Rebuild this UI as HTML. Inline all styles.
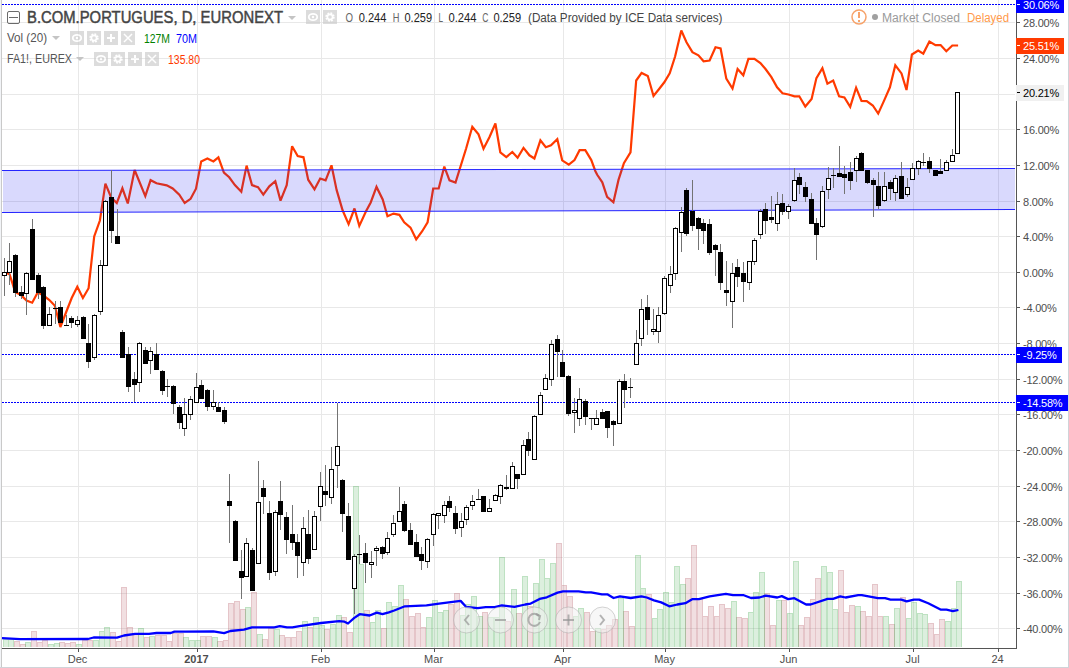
<!DOCTYPE html><html><head><meta charset="utf-8"><style>
html,body{margin:0;padding:0;background:#fff;width:1069px;height:668px;overflow:hidden}
svg{display:block;font-family:"Liberation Sans",sans-serif}
</style></head><body>
<svg width="1069" height="668" viewBox="0 0 1069 668">
<rect x="0" y="0" width="1069" height="668" fill="#fff"/>
<rect x="0" y="0" width="1" height="668" fill="#f2f4f7"/>
<rect x="1" y="0" width="1" height="668" fill="#c9c9c9"/>
<rect x="1068" y="0" width="1" height="668" fill="#d0d3d8"/>
<rect x="0" y="667" width="1069" height="1" fill="#d0d3d8"/>
<g shape-rendering="crispEdges"><rect x="2" y="22" width="1013" height="1" fill="#e8e8e8"/><rect x="2" y="58" width="1013" height="1" fill="#e8e8e8"/><rect x="2" y="94" width="1013" height="1" fill="#e8e8e8"/><rect x="2" y="129" width="1013" height="1" fill="#e8e8e8"/><rect x="2" y="165" width="1013" height="1" fill="#e8e8e8"/><rect x="2" y="201" width="1013" height="1" fill="#e8e8e8"/><rect x="2" y="236" width="1013" height="1" fill="#e8e8e8"/><rect x="2" y="272" width="1013" height="1" fill="#e8e8e8"/><rect x="2" y="307" width="1013" height="1" fill="#e8e8e8"/><rect x="2" y="343" width="1013" height="1" fill="#e8e8e8"/><rect x="2" y="379" width="1013" height="1" fill="#e8e8e8"/><rect x="2" y="414" width="1013" height="1" fill="#e8e8e8"/><rect x="2" y="450" width="1013" height="1" fill="#e8e8e8"/><rect x="2" y="486" width="1013" height="1" fill="#e8e8e8"/><rect x="2" y="521" width="1013" height="1" fill="#e8e8e8"/><rect x="2" y="557" width="1013" height="1" fill="#e8e8e8"/><rect x="2" y="593" width="1013" height="1" fill="#e8e8e8"/><rect x="2" y="628" width="1013" height="1" fill="#e8e8e8"/><rect x="78" y="0" width="1" height="648" fill="#e8e8e8"/><rect x="197" y="0" width="1" height="648" fill="#e8e8e8"/><rect x="321" y="0" width="1" height="648" fill="#e8e8e8"/><rect x="434" y="0" width="1" height="648" fill="#e8e8e8"/><rect x="563" y="0" width="1" height="648" fill="#e8e8e8"/><rect x="665" y="0" width="1" height="648" fill="#e8e8e8"/><rect x="789" y="0" width="1" height="648" fill="#e8e8e8"/><rect x="913" y="0" width="1" height="648" fill="#e8e8e8"/><rect x="998" y="0" width="1" height="648" fill="#e8e8e8"/></g>
<line x1="2" y1="4.5" x2="1016" y2="4.5" stroke="#0000ff" stroke-width="1" stroke-dasharray="2,1" shape-rendering="crispEdges"/>
<line x1="2" y1="354.5" x2="1016" y2="354.5" stroke="#0000ff" stroke-width="1" stroke-dasharray="2,1" shape-rendering="crispEdges"/>
<line x1="2" y1="402.5" x2="1016" y2="402.5" stroke="#0000ff" stroke-width="1" stroke-dasharray="2,1" shape-rendering="crispEdges"/>
<g shape-rendering="crispEdges"><path d="M15,642h4v5h-4zM21,645h4v2h-4zM32,632h4v15h-4zM38,643h4v4h-4zM43,641h4v6h-4zM60,643h4v4h-4zM66,644h4v3h-4zM71,643h4v4h-4zM83,641h4v6h-4zM88,641h4v6h-4zM111,633h4v14h-4zM117,642h4v5h-4zM122,588h4v59h-4zM128,628h4v19h-4zM134,634h4v13h-4zM145,638h4v9h-4zM156,636h4v11h-4zM162,636h4v11h-4zM167,642h4v5h-4zM173,634h4v13h-4zM179,634h4v13h-4zM201,637h4v10h-4zM207,637h4v10h-4zM218,642h4v5h-4zM224,641h4v6h-4zM229,604h4v43h-4zM235,602h4v45h-4zM241,610h4v37h-4zM252,593h4v54h-4zM263,640h4v7h-4zM269,629h4v18h-4zM280,636h4v11h-4zM286,638h4v9h-4zM292,638h4v9h-4zM297,632h4v15h-4zM308,628h4v19h-4zM325,630h4v17h-4zM342,618h4v29h-4zM348,633h4v14h-4zM365,611h4v36h-4zM382,629h4v18h-4zM404,600h4v47h-4zM410,617h4v30h-4zM416,614h4v33h-4zM421,628h4v19h-4zM449,605h4v42h-4zM455,594h4v53h-4zM483,613h4v34h-4zM506,622h4v25h-4zM517,614h4v33h-4zM528,607h4v40h-4zM557,544h4v103h-4zM562,586h4v61h-4zM568,597h4v50h-4zM585,613h4v34h-4zM591,632h4v15h-4zM602,630h4v17h-4zM607,626h4v21h-4zM613,620h4v27h-4zM624,612h4v35h-4zM630,627h4v20h-4zM647,595h4v52h-4zM686,579h4v68h-4zM692,546h4v101h-4zM698,600h4v47h-4zM703,617h4v30h-4zM709,607h4v40h-4zM715,617h4v30h-4zM720,605h4v42h-4zM726,609h4v38h-4zM737,618h4v29h-4zM743,619h4v28h-4zM765,594h4v53h-4zM771,626h4v21h-4zM782,601h4v46h-4zM799,626h4v21h-4zM805,618h4v29h-4zM811,600h4v47h-4zM816,579h4v68h-4zM839,571h4v76h-4zM844,613h4v34h-4zM850,606h4v41h-4zM861,612h4v35h-4zM867,617h4v30h-4zM873,585h4v62h-4zM878,617h4v30h-4zM890,625h4v22h-4zM901,598h4v49h-4zM929,624h4v23h-4zM935,635h4v12h-4zM940,620h4v27h-4z" fill="rgba(190,110,120,0.22)"/><path d="M14.5,647V641.5H19.5V647M20.5,647V644.5H25.5V647M31.5,647V631.5H36.5V647M37.5,647V642.5H42.5V647M42.5,647V640.5H47.5V647M59.5,647V642.5H64.5V647M65.5,647V643.5H70.5V647M70.5,647V642.5H75.5V647M82.5,647V640.5H87.5V647M87.5,647V640.5H92.5V647M110.5,647V632.5H115.5V647M116.5,647V641.5H121.5V647M121.5,647V587.5H126.5V647M127.5,647V627.5H132.5V647M133.5,647V633.5H138.5V647M144.5,647V637.5H149.5V647M155.5,647V635.5H160.5V647M161.5,647V635.5H166.5V647M166.5,647V641.5H171.5V647M172.5,647V633.5H177.5V647M178.5,647V633.5H183.5V647M200.5,647V636.5H205.5V647M206.5,647V636.5H211.5V647M217.5,647V641.5H222.5V647M223.5,647V640.5H228.5V647M228.5,647V603.5H233.5V647M234.5,647V601.5H239.5V647M240.5,647V609.5H245.5V647M251.5,647V592.5H256.5V647M262.5,647V639.5H267.5V647M268.5,647V628.5H273.5V647M279.5,647V635.5H284.5V647M285.5,647V637.5H290.5V647M291.5,647V637.5H296.5V647M296.5,647V631.5H301.5V647M307.5,647V627.5H312.5V647M324.5,647V629.5H329.5V647M341.5,647V617.5H346.5V647M347.5,647V632.5H352.5V647M364.5,647V610.5H369.5V647M381.5,647V628.5H386.5V647M403.5,647V599.5H408.5V647M409.5,647V616.5H414.5V647M415.5,647V613.5H420.5V647M420.5,647V627.5H425.5V647M448.5,647V604.5H453.5V647M454.5,647V593.5H459.5V647M482.5,647V612.5H487.5V647M505.5,647V621.5H510.5V647M516.5,647V613.5H521.5V647M527.5,647V606.5H532.5V647M556.5,647V543.5H561.5V647M561.5,647V585.5H566.5V647M567.5,647V596.5H572.5V647M584.5,647V612.5H589.5V647M590.5,647V631.5H595.5V647M601.5,647V629.5H606.5V647M606.5,647V625.5H611.5V647M612.5,647V619.5H617.5V647M623.5,647V611.5H628.5V647M629.5,647V626.5H634.5V647M646.5,647V594.5H651.5V647M685.5,647V578.5H690.5V647M691.5,647V545.5H696.5V647M697.5,647V599.5H702.5V647M702.5,647V616.5H707.5V647M708.5,647V606.5H713.5V647M714.5,647V616.5H719.5V647M719.5,647V604.5H724.5V647M725.5,647V608.5H730.5V647M736.5,647V617.5H741.5V647M742.5,647V618.5H747.5V647M764.5,647V593.5H769.5V647M770.5,647V625.5H775.5V647M781.5,647V600.5H786.5V647M798.5,647V625.5H803.5V647M804.5,647V617.5H809.5V647M810.5,647V599.5H815.5V647M815.5,647V578.5H820.5V647M838.5,647V570.5H843.5V647M843.5,647V612.5H848.5V647M849.5,647V605.5H854.5V647M860.5,647V611.5H865.5V647M866.5,647V616.5H871.5V647M872.5,647V584.5H877.5V647M877.5,647V616.5H882.5V647M889.5,647V624.5H894.5V647M900.5,647V597.5H905.5V647M928.5,647V623.5H933.5V647M934.5,647V634.5H939.5V647M939.5,647V619.5H944.5V647" fill="none" stroke="rgba(190,110,120,0.4)" stroke-width="1"/><path d="M4,640h4v7h-4zM9,640h4v7h-4zM26,643h4v4h-4zM49,645h4v2h-4zM55,644h4v3h-4zM77,645h4v2h-4zM94,641h4v6h-4zM100,632h4v15h-4zM105,628h4v19h-4zM139,629h4v18h-4zM150,637h4v10h-4zM184,638h4v9h-4zM190,641h4v6h-4zM196,641h4v6h-4zM213,638h4v9h-4zM246,608h4v39h-4zM258,635h4v12h-4zM275,630h4v17h-4zM303,622h4v25h-4zM314,618h4v29h-4zM320,626h4v21h-4zM331,625h4v22h-4zM337,616h4v31h-4zM354,487h4v160h-4zM359,565h4v82h-4zM371,623h4v24h-4zM376,611h4v36h-4zM387,603h4v44h-4zM393,607h4v40h-4zM399,586h4v61h-4zM427,618h4v29h-4zM433,601h4v46h-4zM438,613h4v34h-4zM444,611h4v36h-4zM461,616h4v31h-4zM466,605h4v42h-4zM472,597h4v50h-4zM478,617h4v30h-4zM489,618h4v29h-4zM495,618h4v29h-4zM500,558h4v89h-4zM512,590h4v57h-4zM523,577h4v70h-4zM534,584h4v63h-4zM540,560h4v87h-4zM545,579h4v68h-4zM551,564h4v83h-4zM574,617h4v30h-4zM579,609h4v38h-4zM596,629h4v18h-4zM619,599h4v48h-4zM636,556h4v91h-4zM641,589h4v58h-4zM653,619h4v28h-4zM658,610h4v37h-4zM664,593h4v54h-4zM670,603h4v44h-4zM675,567h4v80h-4zM681,585h4v62h-4zM732,602h4v45h-4zM749,613h4v34h-4zM754,593h4v54h-4zM760,573h4v74h-4zM777,601h4v46h-4zM788,614h4v33h-4zM794,562h4v85h-4zM822,567h4v80h-4zM828,573h4v74h-4zM833,610h4v37h-4zM856,607h4v40h-4zM884,617h4v30h-4zM895,609h4v38h-4zM907,619h4v28h-4zM912,603h4v44h-4zM918,614h4v33h-4zM923,615h4v32h-4zM946,622h4v25h-4zM952,609h4v38h-4zM957,582h4v65h-4z" fill="rgba(80,175,90,0.2)"/><path d="M3.5,647V639.5H8.5V647M8.5,647V639.5H13.5V647M25.5,647V642.5H30.5V647M48.5,647V644.5H53.5V647M54.5,647V643.5H59.5V647M76.5,647V644.5H81.5V647M93.5,647V640.5H98.5V647M99.5,647V631.5H104.5V647M104.5,647V627.5H109.5V647M138.5,647V628.5H143.5V647M149.5,647V636.5H154.5V647M183.5,647V637.5H188.5V647M189.5,647V640.5H194.5V647M195.5,647V640.5H200.5V647M212.5,647V637.5H217.5V647M245.5,647V607.5H250.5V647M257.5,647V634.5H262.5V647M274.5,647V629.5H279.5V647M302.5,647V621.5H307.5V647M313.5,647V617.5H318.5V647M319.5,647V625.5H324.5V647M330.5,647V624.5H335.5V647M336.5,647V615.5H341.5V647M353.5,647V486.5H358.5V647M358.5,647V564.5H363.5V647M370.5,647V622.5H375.5V647M375.5,647V610.5H380.5V647M386.5,647V602.5H391.5V647M392.5,647V606.5H397.5V647M398.5,647V585.5H403.5V647M426.5,647V617.5H431.5V647M432.5,647V600.5H437.5V647M437.5,647V612.5H442.5V647M443.5,647V610.5H448.5V647M460.5,647V615.5H465.5V647M465.5,647V604.5H470.5V647M471.5,647V596.5H476.5V647M477.5,647V616.5H482.5V647M488.5,647V617.5H493.5V647M494.5,647V617.5H499.5V647M499.5,647V557.5H504.5V647M511.5,647V589.5H516.5V647M522.5,647V576.5H527.5V647M533.5,647V583.5H538.5V647M539.5,647V559.5H544.5V647M544.5,647V578.5H549.5V647M550.5,647V563.5H555.5V647M573.5,647V616.5H578.5V647M578.5,647V608.5H583.5V647M595.5,647V628.5H600.5V647M618.5,647V598.5H623.5V647M635.5,647V555.5H640.5V647M640.5,647V588.5H645.5V647M652.5,647V618.5H657.5V647M657.5,647V609.5H662.5V647M663.5,647V592.5H668.5V647M669.5,647V602.5H674.5V647M674.5,647V566.5H679.5V647M680.5,647V584.5H685.5V647M731.5,647V601.5H736.5V647M748.5,647V612.5H753.5V647M753.5,647V592.5H758.5V647M759.5,647V572.5H764.5V647M776.5,647V600.5H781.5V647M787.5,647V613.5H792.5V647M793.5,647V561.5H798.5V647M821.5,647V566.5H826.5V647M827.5,647V572.5H832.5V647M832.5,647V609.5H837.5V647M855.5,647V606.5H860.5V647M883.5,647V616.5H888.5V647M894.5,647V608.5H899.5V647M906.5,647V618.5H911.5V647M911.5,647V602.5H916.5V647M917.5,647V613.5H922.5V647M922.5,647V614.5H927.5V647M945.5,647V621.5H950.5V647M951.5,647V608.5H956.5V647M956.5,647V581.5H961.5V647" fill="none" stroke="rgba(80,175,90,0.37)" stroke-width="1"/></g>
<polyline points="2.0,638.2 20.0,639.1 88.0,639.0 93.6,637.5 117.0,637.7 124.0,635.5 135.0,633.9 149.0,633.9 156.5,633.0 170.8,633.0 174.4,631.6 185.2,631.6 213.3,631.4 224.1,633.2 230.4,631.0 243.9,629.6 252.0,627.4 274.4,627.4 279.8,626.1 287.0,627.4 292.4,627.4 299.6,626.1 321.1,623.0 339.1,621.2 344.5,621.7 348.0,623.5 354.3,617.9 359.7,614.2 369.6,615.5 376.8,612.6 382.5,614.2 388.8,612.3 394.2,610.5 404.9,606.3 426.5,605.4 439.1,603.6 460.6,600.9 466.0,606.8 477.7,608.2 485.8,607.2 494.7,607.2 501.9,605.4 514.5,606.8 525.3,604.5 530.7,603.6 539.6,598.9 546.8,597.3 557.6,592.6 563.0,591.3 578.6,591.4 585.8,592.4 591.1,592.4 601.9,594.3 607.3,594.3 613.6,598.0 619.9,596.3 630.7,598.0 641.4,596.3 646.8,597.5 654.0,600.4 661.2,602.4 669.3,606.3 677.4,604.5 685.4,603.2 692.6,599.1 698.9,599.1 709.7,596.3 725.8,593.8 733.0,595.2 743.8,595.2 751.0,598.0 759.4,597.5 765.7,595.6 777.3,597.5 781.8,596.1 788.1,599.1 794.4,598.2 806.1,604.5 810.6,604.5 827.6,598.9 833.0,598.9 840.2,596.3 845.6,597.5 858.2,595.2 861.8,595.2 877.9,598.2 885.1,598.2 890.5,599.6 901.3,599.6 906.7,601.4 913.8,599.6 919.2,599.6 928.2,603.2 940.5,609.6 946.5,609.7 952.8,611.2 958.4,610.0" fill="none" stroke="#0000ff" stroke-width="2.3" stroke-linejoin="round"/>
<polyline points="6.0,272.7 9.6,274.3 15.2,292.0 20.9,295.0 26.5,300.5 32.2,302.7 37.8,292.2 43.4,295.5 49.1,299.8 54.7,305.5 60.4,327.0 66.0,312.5 71.7,298.0 77.3,286.8 82.9,298.0 88.6,288.2 94.2,236.5 99.9,220.5 105.4,183.6 111.2,197.5 116.8,203.0 122.4,188.3 127.8,203.5 134.6,170.0 145.3,196.2 150.6,180.2 156.5,183.3 166.7,185.3 172.7,188.4 179.3,194.7 184.7,203.0 190.6,198.8 196.0,188.7 201.2,161.4 207.4,158.5 213.4,161.4 218.4,157.3 223.9,172.5 229.2,177.3 234.9,185.1 241.3,191.7 246.6,165.6 252.0,185.1 258.0,187.2 263.3,194.7 269.3,186.3 275.3,181.2 280.5,200.6 286.7,185.1 292.1,146.2 297.7,156.1 303.5,157.3 308.2,179.7 314.5,189.3 320.2,178.5 325.6,180.3 331.5,165.3 336.6,189.9 342.6,210.3 348.6,224.1 354.5,208.5 359.3,225.9 365.9,211.5 370.7,202.5 376.5,186.9 382.7,199.5 387.5,216.3 393.5,213.6 399.4,214.8 404.2,222.3 410.5,227.6 416.2,239.3 422.2,231.2 427.6,222.3 433.2,188.5 438.7,188.5 444.3,166.6 449.5,180.4 455.5,182.5 466.2,148.3 472.3,126.8 478.5,134.4 483.5,148.7 489.4,137.2 495.4,123.5 500.3,152.3 506.3,157.1 512.3,152.0 517.6,157.7 523.5,147.9 529.4,155.3 534.4,158.5 540.4,140.3 545.8,147.2 551.0,145.4 557.3,139.2 562.2,160.3 568.8,164.6 574.5,160.1 579.6,150.2 585.3,150.2 591.3,160.1 595.4,171.2 597.2,174.8 602.3,182.3 607.1,196.9 613.4,202.3 618.5,179.9 623.9,163.1 630.5,152.3 636.2,80.5 641.6,72.9 647.8,76.0 653.5,96.0 658.9,89.2 664.3,82.3 669.7,73.3 675.1,56.5 681.3,30.5 686.5,42.2 692.4,52.1 698.4,55.3 703.6,61.3 709.6,60.5 715.5,47.3 720.6,48.5 726.3,78.7 732.5,88.5 737.6,68.9 743.3,75.3 748.4,58.9 754.4,58.9 760.4,63.0 765.7,69.3 771.4,77.1 777.1,87.3 782.5,93.3 788.5,94.5 794.5,96.3 799.3,96.3 805.3,106.5 811.6,98.9 816.4,78.1 822.4,68.1 827.4,83.7 833.2,80.5 839.1,96.3 844.4,97.5 850.2,106.8 856.1,87.7 861.5,101.0 866.7,101.2 872.8,105.5 878.2,113.6 884.3,100.1 889.9,87.3 895.3,65.3 901.5,73.4 906.5,90.0 911.9,54.5 918.2,50.5 923.3,53.6 929.4,41.5 935.5,45.1 940.6,45.1 946.3,51.3 952.3,45.5 958.1,45.5" fill="none" stroke="#ff3a00" stroke-width="2.2" stroke-linejoin="miter" stroke-miterlimit="3"/>
<polygon points="3,170.5 1015,168.5 1015,209.5 3,212.5" fill="rgba(0,0,240,0.15)"/>
<line x1="2" y1="170.5" x2="1015" y2="168.5" stroke="#2424ff" stroke-width="1.2"/>
<line x1="2" y1="212.5" x2="1015" y2="209.5" stroke="#2424ff" stroke-width="1.2"/>
<g shape-rendering="crispEdges"><rect x="4" y="258" width="1" height="38" fill="#737373"/><rect x="2" y="272" width="5" height="4" fill="#000"/><rect x="3" y="273" width="3" height="2" fill="#fff"/><rect x="9" y="243" width="1" height="42" fill="#737373"/><rect x="7" y="261" width="5" height="12" fill="#000"/><rect x="8" y="262" width="3" height="10" fill="#fff"/><rect x="15" y="254" width="1" height="43" fill="#737373"/><rect x="13" y="255" width="5" height="38" fill="#000"/><rect x="21" y="286" width="1" height="13" fill="#737373"/><rect x="19" y="292" width="5" height="4" fill="#000"/><rect x="26" y="272" width="1" height="43" fill="#737373"/><rect x="24" y="273" width="5" height="21" fill="#000"/><rect x="25" y="274" width="3" height="19" fill="#fff"/><rect x="32" y="219" width="1" height="61" fill="#737373"/><rect x="30" y="229" width="5" height="51" fill="#000"/><rect x="38" y="273" width="1" height="26" fill="#737373"/><rect x="36" y="275" width="5" height="18" fill="#000"/><rect x="43" y="286" width="1" height="43" fill="#737373"/><rect x="41" y="287" width="5" height="39" fill="#000"/><rect x="49" y="307" width="1" height="19" fill="#737373"/><rect x="47" y="314" width="5" height="12" fill="#000"/><rect x="48" y="315" width="3" height="10" fill="#fff"/><rect x="55" y="301" width="1" height="23" fill="#737373"/><rect x="53" y="308" width="5" height="1" fill="#000"/><rect x="60" y="301" width="1" height="22" fill="#737373"/><rect x="58" y="307" width="5" height="16" fill="#000"/><rect x="66" y="315" width="1" height="11" fill="#737373"/><rect x="64" y="325" width="5" height="1" fill="#000"/><rect x="71" y="316" width="1" height="12" fill="#737373"/><rect x="69" y="318" width="5" height="5" fill="#000"/><rect x="77" y="316" width="1" height="11" fill="#737373"/><rect x="75" y="320" width="5" height="5" fill="#000"/><rect x="76" y="321" width="3" height="3" fill="#fff"/><rect x="83" y="316" width="1" height="23" fill="#737373"/><rect x="81" y="317" width="5" height="22" fill="#000"/><rect x="88" y="324" width="1" height="44" fill="#737373"/><rect x="86" y="343" width="5" height="19" fill="#000"/><rect x="94" y="314" width="1" height="46" fill="#737373"/><rect x="92" y="315" width="5" height="43" fill="#000"/><rect x="93" y="316" width="3" height="41" fill="#fff"/><rect x="100" y="260" width="1" height="55" fill="#737373"/><rect x="98" y="265" width="5" height="47" fill="#000"/><rect x="99" y="266" width="3" height="45" fill="#fff"/><rect x="105" y="200" width="1" height="66" fill="#737373"/><rect x="103" y="201" width="5" height="65" fill="#000"/><rect x="104" y="202" width="3" height="63" fill="#fff"/><rect x="111" y="170" width="1" height="73" fill="#737373"/><rect x="109" y="197" width="5" height="34" fill="#000"/><rect x="117" y="209" width="1" height="35" fill="#737373"/><rect x="115" y="236" width="5" height="8" fill="#000"/><rect x="122" y="330" width="1" height="28" fill="#737373"/><rect x="120" y="332" width="5" height="26" fill="#000"/><rect x="128" y="347" width="1" height="45" fill="#737373"/><rect x="126" y="354" width="5" height="33" fill="#000"/><rect x="134" y="372" width="1" height="30" fill="#737373"/><rect x="132" y="379" width="5" height="6" fill="#000"/><rect x="139" y="342" width="1" height="50" fill="#737373"/><rect x="137" y="343" width="5" height="40" fill="#000"/><rect x="138" y="344" width="3" height="38" fill="#fff"/><rect x="145" y="347" width="1" height="17" fill="#737373"/><rect x="143" y="350" width="5" height="14" fill="#000"/><rect x="150" y="347" width="1" height="27" fill="#737373"/><rect x="148" y="351" width="5" height="10" fill="#000"/><rect x="149" y="352" width="3" height="8" fill="#fff"/><rect x="156" y="343" width="1" height="27" fill="#737373"/><rect x="154" y="354" width="5" height="16" fill="#000"/><rect x="162" y="370" width="1" height="25" fill="#737373"/><rect x="160" y="371" width="5" height="20" fill="#000"/><rect x="167" y="379" width="1" height="18" fill="#737373"/><rect x="165" y="386" width="5" height="1" fill="#000"/><rect x="173" y="385" width="1" height="29" fill="#737373"/><rect x="171" y="386" width="5" height="18" fill="#000"/><rect x="179" y="405" width="1" height="24" fill="#737373"/><rect x="177" y="407" width="5" height="16" fill="#000"/><rect x="184" y="398" width="1" height="38" fill="#737373"/><rect x="182" y="414" width="5" height="15" fill="#000"/><rect x="183" y="415" width="3" height="13" fill="#fff"/><rect x="190" y="396" width="1" height="24" fill="#737373"/><rect x="188" y="399" width="5" height="16" fill="#000"/><rect x="189" y="400" width="3" height="14" fill="#fff"/><rect x="196" y="373" width="1" height="30" fill="#737373"/><rect x="194" y="387" width="5" height="16" fill="#000"/><rect x="195" y="388" width="3" height="14" fill="#fff"/><rect x="201" y="380" width="1" height="19" fill="#737373"/><rect x="199" y="385" width="5" height="14" fill="#000"/><rect x="207" y="389" width="1" height="22" fill="#737373"/><rect x="205" y="390" width="5" height="17" fill="#000"/><rect x="213" y="390" width="1" height="20" fill="#737373"/><rect x="211" y="402" width="5" height="5" fill="#000"/><rect x="212" y="403" width="3" height="3" fill="#fff"/><rect x="218" y="402" width="1" height="10" fill="#737373"/><rect x="216" y="407" width="5" height="5" fill="#000"/><rect x="224" y="407" width="1" height="17" fill="#737373"/><rect x="222" y="410" width="5" height="12" fill="#000"/><rect x="229" y="474" width="1" height="69" fill="#737373"/><rect x="227" y="501" width="5" height="5" fill="#000"/><rect x="235" y="520" width="1" height="41" fill="#737373"/><rect x="233" y="521" width="5" height="40" fill="#000"/><rect x="241" y="550" width="1" height="49" fill="#737373"/><rect x="239" y="571" width="5" height="7" fill="#000"/><rect x="246" y="538" width="1" height="39" fill="#737373"/><rect x="244" y="543" width="5" height="34" fill="#000"/><rect x="245" y="544" width="3" height="32" fill="#fff"/><rect x="252" y="548" width="1" height="43" fill="#737373"/><rect x="250" y="550" width="5" height="41" fill="#000"/><rect x="258" y="461" width="1" height="103" fill="#737373"/><rect x="256" y="502" width="5" height="62" fill="#000"/><rect x="257" y="503" width="3" height="60" fill="#fff"/><rect x="263" y="480" width="1" height="34" fill="#737373"/><rect x="261" y="488" width="5" height="9" fill="#000"/><rect x="269" y="501" width="1" height="79" fill="#737373"/><rect x="267" y="513" width="5" height="60" fill="#000"/><rect x="275" y="510" width="1" height="66" fill="#737373"/><rect x="273" y="512" width="5" height="60" fill="#000"/><rect x="274" y="513" width="3" height="58" fill="#fff"/><rect x="280" y="481" width="1" height="49" fill="#737373"/><rect x="278" y="501" width="5" height="14" fill="#000"/><rect x="286" y="512" width="1" height="42" fill="#737373"/><rect x="284" y="517" width="5" height="23" fill="#000"/><rect x="292" y="505" width="1" height="45" fill="#737373"/><rect x="290" y="534" width="5" height="9" fill="#000"/><rect x="297" y="534" width="1" height="44" fill="#737373"/><rect x="295" y="542" width="5" height="14" fill="#000"/><rect x="303" y="517" width="1" height="59" fill="#737373"/><rect x="301" y="528" width="5" height="35" fill="#000"/><rect x="302" y="529" width="3" height="33" fill="#fff"/><rect x="308" y="510" width="1" height="54" fill="#737373"/><rect x="306" y="534" width="5" height="25" fill="#000"/><rect x="314" y="511" width="1" height="39" fill="#737373"/><rect x="312" y="516" width="5" height="34" fill="#000"/><rect x="313" y="517" width="3" height="32" fill="#fff"/><rect x="320" y="472" width="1" height="49" fill="#737373"/><rect x="318" y="486" width="5" height="21" fill="#000"/><rect x="319" y="487" width="3" height="19" fill="#fff"/><rect x="325" y="465" width="1" height="41" fill="#737373"/><rect x="323" y="491" width="5" height="4" fill="#000"/><rect x="331" y="447" width="1" height="57" fill="#737373"/><rect x="329" y="469" width="5" height="29" fill="#000"/><rect x="330" y="470" width="3" height="27" fill="#fff"/><rect x="337" y="403" width="1" height="85" fill="#737373"/><rect x="335" y="446" width="5" height="20" fill="#000"/><rect x="336" y="447" width="3" height="18" fill="#fff"/><rect x="342" y="479" width="1" height="53" fill="#737373"/><rect x="340" y="480" width="5" height="34" fill="#000"/><rect x="348" y="503" width="1" height="57" fill="#737373"/><rect x="346" y="516" width="5" height="44" fill="#000"/><rect x="354" y="554" width="1" height="60" fill="#737373"/><rect x="352" y="556" width="5" height="33" fill="#000"/><rect x="353" y="557" width="3" height="31" fill="#fff"/><rect x="359" y="535" width="1" height="29" fill="#737373"/><rect x="357" y="554" width="5" height="1" fill="#000"/><rect x="365" y="543" width="1" height="40" fill="#737373"/><rect x="363" y="553" width="5" height="10" fill="#000"/><rect x="371" y="551" width="1" height="27" fill="#737373"/><rect x="369" y="562" width="5" height="3" fill="#000"/><rect x="370" y="563" width="3" height="1" fill="#fff"/><rect x="376" y="546" width="1" height="20" fill="#737373"/><rect x="374" y="548" width="5" height="3" fill="#000"/><rect x="375" y="549" width="3" height="1" fill="#fff"/><rect x="382" y="546" width="1" height="13" fill="#737373"/><rect x="380" y="547" width="5" height="7" fill="#000"/><rect x="387" y="532" width="1" height="23" fill="#737373"/><rect x="385" y="538" width="5" height="15" fill="#000"/><rect x="386" y="539" width="3" height="13" fill="#fff"/><rect x="393" y="515" width="1" height="22" fill="#737373"/><rect x="391" y="523" width="5" height="12" fill="#000"/><rect x="392" y="524" width="3" height="10" fill="#fff"/><rect x="399" y="487" width="1" height="35" fill="#737373"/><rect x="397" y="511" width="5" height="11" fill="#000"/><rect x="398" y="512" width="3" height="9" fill="#fff"/><rect x="404" y="501" width="1" height="31" fill="#737373"/><rect x="402" y="504" width="5" height="27" fill="#000"/><rect x="410" y="523" width="1" height="22" fill="#737373"/><rect x="408" y="530" width="5" height="15" fill="#000"/><rect x="416" y="534" width="1" height="23" fill="#737373"/><rect x="414" y="542" width="5" height="15" fill="#000"/><rect x="421" y="547" width="1" height="23" fill="#737373"/><rect x="419" y="554" width="5" height="7" fill="#000"/><rect x="427" y="538" width="1" height="30" fill="#737373"/><rect x="425" y="539" width="5" height="23" fill="#000"/><rect x="426" y="540" width="3" height="21" fill="#fff"/><rect x="433" y="513" width="1" height="33" fill="#737373"/><rect x="431" y="514" width="5" height="21" fill="#000"/><rect x="432" y="515" width="3" height="19" fill="#fff"/><rect x="438" y="513" width="1" height="16" fill="#737373"/><rect x="436" y="513" width="5" height="3" fill="#000"/><rect x="437" y="514" width="3" height="1" fill="#fff"/><rect x="444" y="501" width="1" height="22" fill="#737373"/><rect x="442" y="505" width="5" height="11" fill="#000"/><rect x="443" y="506" width="3" height="9" fill="#fff"/><rect x="449" y="496" width="1" height="16" fill="#737373"/><rect x="447" y="501" width="5" height="7" fill="#000"/><rect x="455" y="506" width="1" height="28" fill="#737373"/><rect x="453" y="513" width="5" height="16" fill="#000"/><rect x="461" y="513" width="1" height="24" fill="#737373"/><rect x="459" y="521" width="5" height="7" fill="#000"/><rect x="460" y="522" width="3" height="5" fill="#fff"/><rect x="466" y="505" width="1" height="20" fill="#737373"/><rect x="464" y="507" width="5" height="13" fill="#000"/><rect x="465" y="508" width="3" height="11" fill="#fff"/><rect x="472" y="495" width="1" height="15" fill="#737373"/><rect x="470" y="501" width="5" height="5" fill="#000"/><rect x="471" y="502" width="3" height="3" fill="#fff"/><rect x="478" y="489" width="1" height="11" fill="#737373"/><rect x="476" y="499" width="5" height="1" fill="#000"/><rect x="483" y="496" width="1" height="16" fill="#737373"/><rect x="481" y="496" width="5" height="16" fill="#000"/><rect x="489" y="499" width="1" height="13" fill="#737373"/><rect x="487" y="508" width="5" height="4" fill="#000"/><rect x="488" y="509" width="3" height="2" fill="#fff"/><rect x="495" y="494" width="1" height="7" fill="#737373"/><rect x="493" y="495" width="5" height="6" fill="#000"/><rect x="494" y="496" width="3" height="4" fill="#fff"/><rect x="500" y="484" width="1" height="20" fill="#737373"/><rect x="498" y="485" width="5" height="12" fill="#000"/><rect x="499" y="486" width="3" height="10" fill="#fff"/><rect x="506" y="475" width="1" height="15" fill="#737373"/><rect x="504" y="487" width="5" height="2" fill="#000"/><rect x="512" y="462" width="1" height="27" fill="#737373"/><rect x="510" y="466" width="5" height="23" fill="#000"/><rect x="511" y="467" width="3" height="21" fill="#fff"/><rect x="517" y="474" width="1" height="15" fill="#737373"/><rect x="515" y="474" width="5" height="5" fill="#000"/><rect x="523" y="440" width="1" height="35" fill="#737373"/><rect x="521" y="445" width="5" height="30" fill="#000"/><rect x="522" y="446" width="3" height="28" fill="#fff"/><rect x="528" y="432" width="1" height="24" fill="#737373"/><rect x="526" y="439" width="5" height="12" fill="#000"/><rect x="534" y="415" width="1" height="45" fill="#737373"/><rect x="532" y="416" width="5" height="44" fill="#000"/><rect x="533" y="417" width="3" height="42" fill="#fff"/><rect x="540" y="392" width="1" height="23" fill="#737373"/><rect x="538" y="395" width="5" height="20" fill="#000"/><rect x="539" y="396" width="3" height="18" fill="#fff"/><rect x="545" y="374" width="1" height="16" fill="#737373"/><rect x="543" y="378" width="5" height="12" fill="#000"/><rect x="544" y="379" width="3" height="10" fill="#fff"/><rect x="551" y="340" width="1" height="46" fill="#737373"/><rect x="549" y="344" width="5" height="36" fill="#000"/><rect x="550" y="345" width="3" height="34" fill="#fff"/><rect x="557" y="335" width="1" height="42" fill="#737373"/><rect x="555" y="339" width="5" height="13" fill="#000"/><rect x="562" y="350" width="1" height="27" fill="#737373"/><rect x="560" y="362" width="5" height="15" fill="#000"/><rect x="568" y="375" width="1" height="41" fill="#737373"/><rect x="566" y="376" width="5" height="38" fill="#000"/><rect x="574" y="398" width="1" height="35" fill="#737373"/><rect x="572" y="410" width="5" height="3" fill="#000"/><rect x="573" y="411" width="3" height="1" fill="#fff"/><rect x="579" y="388" width="1" height="38" fill="#737373"/><rect x="577" y="399" width="5" height="20" fill="#000"/><rect x="578" y="400" width="3" height="18" fill="#fff"/><rect x="585" y="399" width="1" height="26" fill="#737373"/><rect x="583" y="401" width="5" height="16" fill="#000"/><rect x="591" y="418" width="1" height="12" fill="#737373"/><rect x="589" y="418" width="5" height="1" fill="#000"/><rect x="596" y="410" width="1" height="15" fill="#737373"/><rect x="594" y="418" width="5" height="7" fill="#000"/><rect x="595" y="419" width="3" height="5" fill="#fff"/><rect x="602" y="409" width="1" height="10" fill="#737373"/><rect x="600" y="412" width="5" height="7" fill="#000"/><rect x="607" y="411" width="1" height="27" fill="#737373"/><rect x="605" y="411" width="5" height="17" fill="#000"/><rect x="613" y="420" width="1" height="26" fill="#737373"/><rect x="611" y="421" width="5" height="4" fill="#000"/><rect x="619" y="379" width="1" height="45" fill="#737373"/><rect x="617" y="381" width="5" height="43" fill="#000"/><rect x="618" y="382" width="3" height="41" fill="#fff"/><rect x="624" y="374" width="1" height="34" fill="#737373"/><rect x="622" y="381" width="5" height="9" fill="#000"/><rect x="630" y="378" width="1" height="20" fill="#737373"/><rect x="628" y="387" width="5" height="1" fill="#000"/><rect x="636" y="330" width="1" height="35" fill="#737373"/><rect x="634" y="343" width="5" height="22" fill="#000"/><rect x="635" y="344" width="3" height="20" fill="#fff"/><rect x="641" y="299" width="1" height="47" fill="#737373"/><rect x="639" y="309" width="5" height="30" fill="#000"/><rect x="640" y="310" width="3" height="28" fill="#fff"/><rect x="647" y="295" width="1" height="40" fill="#737373"/><rect x="645" y="307" width="5" height="13" fill="#000"/><rect x="653" y="309" width="1" height="26" fill="#737373"/><rect x="651" y="329" width="5" height="3" fill="#000"/><rect x="652" y="330" width="3" height="1" fill="#fff"/><rect x="658" y="307" width="1" height="36" fill="#737373"/><rect x="656" y="315" width="5" height="17" fill="#000"/><rect x="657" y="316" width="3" height="15" fill="#fff"/><rect x="664" y="276" width="1" height="39" fill="#737373"/><rect x="662" y="278" width="5" height="36" fill="#000"/><rect x="663" y="279" width="3" height="34" fill="#fff"/><rect x="670" y="266" width="1" height="27" fill="#737373"/><rect x="668" y="274" width="5" height="12" fill="#000"/><rect x="669" y="275" width="3" height="10" fill="#fff"/><rect x="675" y="227" width="1" height="53" fill="#737373"/><rect x="673" y="228" width="5" height="46" fill="#000"/><rect x="674" y="229" width="3" height="44" fill="#fff"/><rect x="681" y="207" width="1" height="45" fill="#737373"/><rect x="679" y="212" width="5" height="21" fill="#000"/><rect x="680" y="213" width="3" height="19" fill="#fff"/><rect x="686" y="188" width="1" height="48" fill="#737373"/><rect x="684" y="190" width="5" height="44" fill="#000"/><rect x="692" y="180" width="1" height="51" fill="#737373"/><rect x="690" y="211" width="5" height="15" fill="#000"/><rect x="698" y="217" width="1" height="33" fill="#737373"/><rect x="696" y="218" width="5" height="11" fill="#000"/><rect x="703" y="219" width="1" height="25" fill="#737373"/><rect x="701" y="223" width="5" height="8" fill="#000"/><rect x="709" y="219" width="1" height="36" fill="#737373"/><rect x="707" y="224" width="5" height="29" fill="#000"/><rect x="715" y="244" width="1" height="32" fill="#737373"/><rect x="713" y="245" width="5" height="5" fill="#000"/><rect x="720" y="244" width="1" height="46" fill="#737373"/><rect x="718" y="252" width="5" height="31" fill="#000"/><rect x="726" y="261" width="1" height="45" fill="#737373"/><rect x="724" y="290" width="5" height="3" fill="#000"/><rect x="732" y="263" width="1" height="65" fill="#737373"/><rect x="730" y="273" width="5" height="29" fill="#000"/><rect x="731" y="274" width="3" height="27" fill="#fff"/><rect x="737" y="259" width="1" height="28" fill="#737373"/><rect x="735" y="267" width="5" height="10" fill="#000"/><rect x="743" y="262" width="1" height="40" fill="#737373"/><rect x="741" y="273" width="5" height="9" fill="#000"/><rect x="749" y="261" width="1" height="29" fill="#737373"/><rect x="747" y="261" width="5" height="22" fill="#000"/><rect x="748" y="262" width="3" height="20" fill="#fff"/><rect x="754" y="238" width="1" height="27" fill="#737373"/><rect x="752" y="240" width="5" height="22" fill="#000"/><rect x="753" y="241" width="3" height="20" fill="#fff"/><rect x="760" y="209" width="1" height="30" fill="#737373"/><rect x="758" y="211" width="5" height="24" fill="#000"/><rect x="759" y="212" width="3" height="22" fill="#fff"/><rect x="765" y="203" width="1" height="31" fill="#737373"/><rect x="763" y="209" width="5" height="12" fill="#000"/><rect x="771" y="196" width="1" height="27" fill="#737373"/><rect x="769" y="217" width="5" height="3" fill="#000"/><rect x="777" y="192" width="1" height="39" fill="#737373"/><rect x="775" y="204" width="5" height="20" fill="#000"/><rect x="776" y="205" width="3" height="18" fill="#fff"/><rect x="782" y="194" width="1" height="21" fill="#737373"/><rect x="780" y="203" width="5" height="9" fill="#000"/><rect x="788" y="204" width="1" height="15" fill="#737373"/><rect x="786" y="206" width="5" height="6" fill="#000"/><rect x="787" y="207" width="3" height="4" fill="#fff"/><rect x="794" y="168" width="1" height="34" fill="#737373"/><rect x="792" y="180" width="5" height="21" fill="#000"/><rect x="793" y="181" width="3" height="19" fill="#fff"/><rect x="799" y="173" width="1" height="21" fill="#737373"/><rect x="797" y="177" width="5" height="8" fill="#000"/><rect x="805" y="182" width="1" height="20" fill="#737373"/><rect x="803" y="187" width="5" height="10" fill="#000"/><rect x="811" y="193" width="1" height="31" fill="#737373"/><rect x="809" y="199" width="5" height="25" fill="#000"/><rect x="816" y="218" width="1" height="42" fill="#737373"/><rect x="814" y="223" width="5" height="12" fill="#000"/><rect x="822" y="186" width="1" height="42" fill="#737373"/><rect x="820" y="191" width="5" height="36" fill="#000"/><rect x="821" y="192" width="3" height="34" fill="#fff"/><rect x="828" y="167" width="1" height="32" fill="#737373"/><rect x="826" y="178" width="5" height="12" fill="#000"/><rect x="827" y="179" width="3" height="10" fill="#fff"/><rect x="833" y="168" width="1" height="20" fill="#737373"/><rect x="831" y="175" width="5" height="1" fill="#000"/><rect x="839" y="146" width="1" height="31" fill="#737373"/><rect x="837" y="173" width="5" height="4" fill="#000"/><rect x="844" y="166" width="1" height="28" fill="#737373"/><rect x="842" y="174" width="5" height="4" fill="#000"/><rect x="850" y="162" width="1" height="28" fill="#737373"/><rect x="848" y="172" width="5" height="9" fill="#000"/><rect x="856" y="156" width="1" height="26" fill="#737373"/><rect x="854" y="158" width="5" height="13" fill="#000"/><rect x="855" y="159" width="3" height="11" fill="#fff"/><rect x="861" y="152" width="1" height="18" fill="#737373"/><rect x="859" y="153" width="5" height="18" fill="#000"/><rect x="867" y="170" width="1" height="14" fill="#737373"/><rect x="865" y="170" width="5" height="13" fill="#000"/><rect x="873" y="178" width="1" height="39" fill="#737373"/><rect x="871" y="180" width="5" height="5" fill="#000"/><rect x="878" y="172" width="1" height="37" fill="#737373"/><rect x="876" y="186" width="5" height="20" fill="#000"/><rect x="884" y="172" width="1" height="30" fill="#737373"/><rect x="882" y="186" width="5" height="15" fill="#000"/><rect x="883" y="187" width="3" height="13" fill="#fff"/><rect x="890" y="180" width="1" height="20" fill="#737373"/><rect x="888" y="182" width="5" height="7" fill="#000"/><rect x="895" y="175" width="1" height="26" fill="#737373"/><rect x="893" y="178" width="5" height="15" fill="#000"/><rect x="894" y="179" width="3" height="13" fill="#fff"/><rect x="901" y="162" width="1" height="37" fill="#737373"/><rect x="899" y="176" width="5" height="23" fill="#000"/><rect x="907" y="178" width="1" height="19" fill="#737373"/><rect x="905" y="187" width="5" height="8" fill="#000"/><rect x="906" y="188" width="3" height="6" fill="#fff"/><rect x="912" y="163" width="1" height="17" fill="#737373"/><rect x="910" y="168" width="5" height="12" fill="#000"/><rect x="911" y="169" width="3" height="10" fill="#fff"/><rect x="918" y="160" width="1" height="15" fill="#737373"/><rect x="916" y="161" width="5" height="8" fill="#000"/><rect x="917" y="162" width="3" height="6" fill="#fff"/><rect x="923" y="153" width="1" height="13" fill="#737373"/><rect x="921" y="162" width="5" height="1" fill="#000"/><rect x="929" y="157" width="1" height="16" fill="#737373"/><rect x="927" y="161" width="5" height="8" fill="#000"/><rect x="935" y="170" width="1" height="6" fill="#737373"/><rect x="933" y="170" width="5" height="6" fill="#000"/><rect x="940" y="159" width="1" height="15" fill="#737373"/><rect x="938" y="171" width="5" height="3" fill="#000"/><rect x="946" y="160" width="1" height="11" fill="#737373"/><rect x="944" y="162" width="5" height="9" fill="#000"/><rect x="945" y="163" width="3" height="7" fill="#fff"/><rect x="952" y="149" width="1" height="13" fill="#737373"/><rect x="950" y="155" width="5" height="7" fill="#000"/><rect x="951" y="156" width="3" height="5" fill="#fff"/><rect x="957" y="92" width="1" height="62" fill="#737373"/><rect x="955" y="92" width="5" height="62" fill="#000"/><rect x="956" y="93" width="3" height="60" fill="#fff"/></g>
<g><circle cx="466.5" cy="620" r="13" fill="rgba(240,240,240,0.55)" stroke="rgba(160,160,160,0.45)" stroke-width="1"/><circle cx="500.5" cy="620" r="13" fill="rgba(240,240,240,0.55)" stroke="rgba(160,160,160,0.45)" stroke-width="1"/><circle cx="534.5" cy="620" r="13" fill="rgba(240,240,240,0.55)" stroke="rgba(160,160,160,0.45)" stroke-width="1"/><circle cx="568.5" cy="620" r="13" fill="rgba(240,240,240,0.55)" stroke="rgba(160,160,160,0.45)" stroke-width="1"/><circle cx="602.5" cy="620" r="13" fill="rgba(240,240,240,0.55)" stroke="rgba(160,160,160,0.45)" stroke-width="1"/><polyline points="469,615 465,620 469,625" stroke="rgba(150,150,150,0.7)" stroke-width="2" fill="none"/><line x1="495" y1="620" x2="506" y2="620" stroke="rgba(150,150,150,0.7)" stroke-width="2" fill="none"/><path d="M539,616 A6,6 0 1 0 540,622" stroke="rgba(150,150,150,0.7)" stroke-width="2" fill="none"/><polyline points="536,614 540,616 539,620" stroke="rgba(150,150,150,0.7)" stroke-width="2" fill="none"/><line x1="563" y1="620" x2="574" y2="620" stroke="rgba(150,150,150,0.7)" stroke-width="2" fill="none"/><line x1="568.5" y1="614.5" x2="568.5" y2="625.5" stroke="rgba(150,150,150,0.7)" stroke-width="2" fill="none"/><polyline points="600,615 604,620 600,625" stroke="rgba(150,150,150,0.7)" stroke-width="2" fill="none"/></g>
<g shape-rendering="crispEdges"><rect x="1016" y="0" width="1" height="649" fill="#555555"/><rect x="2" y="648" width="1015" height="1" fill="#555555"/><rect x="1017" y="22" width="3" height="1" fill="#555555"/><rect x="1017" y="58" width="3" height="1" fill="#555555"/><rect x="1017" y="94" width="3" height="1" fill="#555555"/><rect x="1017" y="129" width="3" height="1" fill="#555555"/><rect x="1017" y="165" width="3" height="1" fill="#555555"/><rect x="1017" y="201" width="3" height="1" fill="#555555"/><rect x="1017" y="236" width="3" height="1" fill="#555555"/><rect x="1017" y="272" width="3" height="1" fill="#555555"/><rect x="1017" y="307" width="3" height="1" fill="#555555"/><rect x="1017" y="343" width="3" height="1" fill="#555555"/><rect x="1017" y="379" width="3" height="1" fill="#555555"/><rect x="1017" y="414" width="3" height="1" fill="#555555"/><rect x="1017" y="450" width="3" height="1" fill="#555555"/><rect x="1017" y="486" width="3" height="1" fill="#555555"/><rect x="1017" y="521" width="3" height="1" fill="#555555"/><rect x="1017" y="557" width="3" height="1" fill="#555555"/><rect x="1017" y="593" width="3" height="1" fill="#555555"/><rect x="1017" y="628" width="3" height="1" fill="#555555"/><rect x="78" y="649" width="1" height="3" fill="#555555"/><rect x="197" y="649" width="1" height="3" fill="#555555"/><rect x="321" y="649" width="1" height="3" fill="#555555"/><rect x="434" y="649" width="1" height="3" fill="#555555"/><rect x="563" y="649" width="1" height="3" fill="#555555"/><rect x="665" y="649" width="1" height="3" fill="#555555"/><rect x="789" y="649" width="1" height="3" fill="#555555"/><rect x="913" y="649" width="1" height="3" fill="#555555"/><rect x="998" y="649" width="1" height="3" fill="#555555"/></g>
<g><text x="1023" y="27" font-size="11" letter-spacing="-0.22" fill="#4d4d4d">28.00%</text><text x="1023" y="63" font-size="11" letter-spacing="-0.22" fill="#4d4d4d">24.00%</text><text x="1023" y="134" font-size="11" letter-spacing="-0.22" fill="#4d4d4d">16.00%</text><text x="1023" y="170" font-size="11" letter-spacing="-0.22" fill="#4d4d4d">12.00%</text><text x="1023" y="206" font-size="11" letter-spacing="-0.22" fill="#4d4d4d">8.00%</text><text x="1023" y="241" font-size="11" letter-spacing="-0.22" fill="#4d4d4d">4.00%</text><text x="1023" y="277" font-size="11" letter-spacing="-0.22" fill="#4d4d4d">0.00%</text><text x="1023" y="312" font-size="11" letter-spacing="-0.22" fill="#4d4d4d">-4.00%</text><text x="1023" y="348" font-size="11" letter-spacing="-0.22" fill="#4d4d4d">-8.00%</text><text x="1023" y="384" font-size="11" letter-spacing="-0.22" fill="#4d4d4d">-12.00%</text><text x="1023" y="419" font-size="11" letter-spacing="-0.22" fill="#4d4d4d">-16.00%</text><text x="1023" y="455" font-size="11" letter-spacing="-0.22" fill="#4d4d4d">-20.00%</text><text x="1023" y="491" font-size="11" letter-spacing="-0.22" fill="#4d4d4d">-24.00%</text><text x="1023" y="526" font-size="11" letter-spacing="-0.22" fill="#4d4d4d">-28.00%</text><text x="1023" y="562" font-size="11" letter-spacing="-0.22" fill="#4d4d4d">-32.00%</text><text x="1023" y="598" font-size="11" letter-spacing="-0.22" fill="#4d4d4d">-36.00%</text><text x="1023" y="633" font-size="11" letter-spacing="-0.22" fill="#4d4d4d">-40.00%</text></g>
<g shape-rendering="crispEdges">
<rect x="1016" y="-4" width="48" height="17" fill="#0000ff"/>
<rect x="1016" y="38" width="48" height="16" fill="#ff3a00"/>
<rect x="1016" y="85" width="48" height="16" fill="#f0f0f0"/>
<rect x="1016" y="347" width="46" height="16" fill="#0000ff"/>
<rect x="1016" y="395" width="52" height="16" fill="#0000ff"/>
<rect x="1017" y="4" width="3" height="1" fill="#fff"/>
<rect x="1017" y="45" width="3" height="1" fill="#fff"/>
<rect x="1017" y="92" width="3" height="1" fill="#000"/>
<rect x="1017" y="354" width="3" height="1" fill="#fff"/>
<rect x="1017" y="402" width="3" height="1" fill="#fff"/>
</g>
<text x="1023" y="9" font-size="11" letter-spacing="-0.22" fill="#fff">30.06%</text>
<text x="1023" y="50" font-size="11" letter-spacing="-0.22" fill="#fff">25.51%</text>
<text x="1023" y="97" font-size="11" letter-spacing="-0.22" fill="#000">20.21%</text>
<text x="1023" y="359" font-size="11" letter-spacing="-0.22" fill="#fff">-9.25%</text>
<text x="1023" y="407" font-size="11" letter-spacing="-0.22" fill="#fff">-14.58%</text>
<text x="77.6" y="663" font-size="11" fill="#4d4d4d" text-anchor="middle">Dec</text>
<text x="196.5" y="663" font-size="11" fill="#4d4d4d" text-anchor="middle" font-weight="bold">2017</text>
<text x="320.6" y="663" font-size="11" fill="#4d4d4d" text-anchor="middle">Feb</text>
<text x="433.6" y="663" font-size="11" fill="#4d4d4d" text-anchor="middle">Mar</text>
<text x="562.6" y="663" font-size="11" fill="#4d4d4d" text-anchor="middle">Apr</text>
<text x="664.6" y="663" font-size="11" fill="#4d4d4d" text-anchor="middle">May</text>
<text x="788.6" y="663" font-size="11" fill="#4d4d4d" text-anchor="middle">Jun</text>
<text x="912.6" y="663" font-size="11" fill="#4d4d4d" text-anchor="middle">Jul</text>
<text x="997.6" y="663" font-size="11" fill="#4d4d4d" text-anchor="middle">24</text>
<rect x="7.5" y="11.5" width="12" height="12" rx="1.5" fill="none" stroke="#6a6a6a" stroke-width="1"/><rect x="9" y="17" width="9" height="1" fill="#6a6a6a"/><text x="27" y="23" font-size="16" fill="#444" stroke="#444" stroke-width="0.45" textLength="256" lengthAdjust="spacingAndGlyphs">B.COM.PORTUGUES, D, EURONEXT</text><polygon points="288,16 296,16 292,20" fill="#c4c4c4"/><g opacity="0.62"><rect x="306" y="10" width="14" height="14" fill="#c8c8c8"/><ellipse cx="313" cy="17" rx="4.2" ry="3.2" fill="none" stroke="#fff" stroke-width="1.8"/><circle cx="313" cy="17" r="1.2" fill="#fff"/></g><g opacity="0.62"><rect x="323" y="10" width="14" height="14" fill="#c8c8c8"/><circle cx="330" cy="17" r="3.4" fill="none" stroke="#fff" stroke-width="2.6" stroke-dasharray="1.6,1.07"/><circle cx="330" cy="17" r="2.6" fill="none" stroke="#fff" stroke-width="1.6"/></g>
<text x="345.6" y="22" font-size="12" fill="#666" textLength="7.5" lengthAdjust="spacingAndGlyphs">O</text>
<text x="358.7" y="22" font-size="12" fill="#222" textLength="27.7" lengthAdjust="spacingAndGlyphs">0.244</text>
<text x="392.8" y="22" font-size="12" fill="#666" textLength="6.7" lengthAdjust="spacingAndGlyphs">H</text>
<text x="404.5" y="22" font-size="12" fill="#222" textLength="27.5" lengthAdjust="spacingAndGlyphs">0.259</text>
<text x="438.6" y="22" font-size="12" fill="#666" textLength="4.5" lengthAdjust="spacingAndGlyphs">L</text>
<text x="448.5" y="22" font-size="12" fill="#222" textLength="28.1" lengthAdjust="spacingAndGlyphs">0.244</text>
<text x="482.2" y="22" font-size="12" fill="#666" textLength="6.2" lengthAdjust="spacingAndGlyphs">C</text>
<text x="493.4" y="22" font-size="12" fill="#222" textLength="27.7" lengthAdjust="spacingAndGlyphs">0.259</text>
<text x="528" y="22" font-size="12" fill="#444" textLength="194.4" lengthAdjust="spacingAndGlyphs">(Data Provided by ICE Data services)</text>
<circle cx="859" cy="17" r="7" fill="none" stroke="#f7a36b" stroke-width="1.5"/>
<rect x="858" y="12" width="2" height="6" fill="#f7a36b"/><rect x="858" y="20" width="2" height="2" fill="#f7a36b"/>
<circle cx="875" cy="17" r="3" fill="#a0a0a0"/>
<text x="882" y="22" font-size="12" fill="#9a9a9a" textLength="78" lengthAdjust="spacingAndGlyphs">Market Closed</text>
<text x="967" y="22" font-size="12" fill="#ff9a4a" textLength="42" lengthAdjust="spacingAndGlyphs">Delayed</text>
<text x="7" y="42" font-size="12" fill="#555" textLength="40" lengthAdjust="spacingAndGlyphs">Vol (20)</text>
<polygon points="52,36 60,36 56,40" fill="#c4c4c4"/>
<g opacity="0.62"><rect x="70" y="31" width="14" height="14" fill="#c8c8c8"/><ellipse cx="77" cy="38" rx="4.2" ry="3.2" fill="none" stroke="#fff" stroke-width="1.8"/><circle cx="77" cy="38" r="1.2" fill="#fff"/></g>
<g opacity="0.62"><rect x="87" y="31" width="14" height="14" fill="#c8c8c8"/><circle cx="94" cy="38" r="3.4" fill="none" stroke="#fff" stroke-width="2.6" stroke-dasharray="1.6,1.07"/><circle cx="94" cy="38" r="2.6" fill="none" stroke="#fff" stroke-width="1.6"/></g>
<g opacity="0.62"><rect x="104" y="31" width="14" height="14" fill="#c8c8c8"/><rect x="107" y="37" width="8" height="2" fill="#fff"/><rect x="110" y="34" width="2" height="8" fill="#fff"/></g>
<g opacity="0.62"><rect x="121" y="31" width="14" height="14" fill="#c8c8c8"/><path d="M124,34 L132,42 M132,34 L124,42" stroke="#fff" stroke-width="1.5"/></g>
<text x="144" y="43" font-size="12" fill="#008000" textLength="26" lengthAdjust="spacingAndGlyphs">127M</text>
<text x="176" y="43" font-size="12" fill="#0000ff" textLength="21" lengthAdjust="spacingAndGlyphs">70M</text>
<text x="7" y="63" font-size="12" fill="#555" textLength="65" lengthAdjust="spacingAndGlyphs">FA1!, EUREX</text>
<polygon points="76,57 84,57 80,61" fill="#c4c4c4"/>
<g opacity="0.62"><rect x="94" y="52" width="14" height="14" fill="#c8c8c8"/><ellipse cx="101" cy="59" rx="4.2" ry="3.2" fill="none" stroke="#fff" stroke-width="1.8"/><circle cx="101" cy="59" r="1.2" fill="#fff"/></g>
<g opacity="0.62"><rect x="111" y="52" width="14" height="14" fill="#c8c8c8"/><circle cx="118" cy="59" r="3.4" fill="none" stroke="#fff" stroke-width="2.6" stroke-dasharray="1.6,1.07"/><circle cx="118" cy="59" r="2.6" fill="none" stroke="#fff" stroke-width="1.6"/></g>
<g opacity="0.62"><rect x="128" y="52" width="14" height="14" fill="#c8c8c8"/><rect x="131" y="58" width="8" height="2" fill="#fff"/><rect x="134" y="55" width="2" height="8" fill="#fff"/></g>
<g opacity="0.62"><rect x="145" y="52" width="14" height="14" fill="#c8c8c8"/><path d="M148,55 L156,63 M156,55 L148,63" stroke="#fff" stroke-width="1.5"/></g>
<text x="168" y="64" font-size="12" fill="#ff3a00" textLength="32" lengthAdjust="spacingAndGlyphs">135.80</text>
</svg></body></html>
